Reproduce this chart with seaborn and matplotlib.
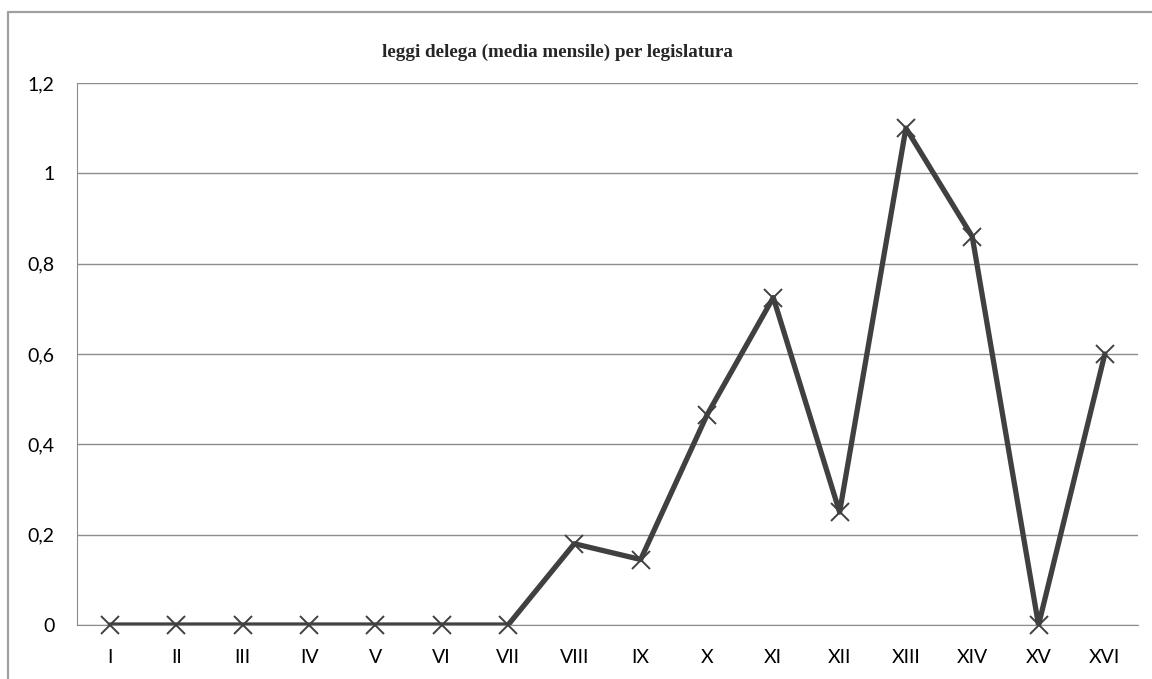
import pandas as pd
import matplotlib.pyplot as plt
import seaborn as sns
from matplotlib.lines import Line2D
from matplotlib.ticker import FuncFormatter

legislature = ["I", "II", "III", "IV", "V", "VI", "VII", "VIII",
               "IX", "X", "XI", "XII", "XIII", "XIV", "XV", "XVI"]
media_mensile = [0, 0, 0, 0, 0, 0, 0, 0.18,
                 0.145, 0.465, 0.725, 0.25, 1.1, 0.86, 0, 0.6]

df = pd.DataFrame({"legislatura": legislature, "media": media_mensile})

sns.set_style("white")
plt.rcParams["font.family"] = ["Lato", "DejaVu Sans"]

fig = plt.figure(figsize=(11.52, 6.79), dpi=100)
ax = fig.add_axes([77 / 1152, 0.0795, 1061 / 1152, 0.7983])

sns.lineplot(data=df, x="legislatura", y="media", ax=ax, sort=False,
             color="#404040", linewidth=3.8)
ax.plot(range(len(legislature)), media_mensile, linestyle="none",
        marker="x", markersize=13, markeredgewidth=1.4, color="#404040",
        clip_on=False, zorder=4)

ax.set_xlim(-0.5, len(legislature) - 0.5)
ax.set_ylim(0, 1.2)
ax.set_yticks([0, 0.2, 0.4, 0.6, 0.8, 1.0, 1.2])
ax.yaxis.set_major_formatter(FuncFormatter(
    lambda v, p: "0" if v == 0 else ("1" if abs(v - 1) < 1e-9 else f"{v:.1f}".replace(".", ","))))
ax.grid(axis="y", color="#8c8c8c", linewidth=1)
ax.set_axisbelow(True)
for s in ["top", "right"]:
    ax.spines[s].set_visible(False)
ax.spines["left"].set_color("#8c8c8c")
ax.spines["bottom"].set_color("#8c8c8c")
ax.tick_params(axis="both", labelsize=14, colors="#000000", length=0)
ax.tick_params(axis="y", pad=16)
ax.tick_params(axis="x", pad=17)
ax.set_xlabel("")
ax.set_ylabel("")

fig.text(557 / 1152, 1 - 52 / 679, "leggi delega (media mensile) per legislatura",
         ha="center", va="center", fontsize=13.8, fontweight="bold",
         family="Liberation Serif")

# outer chart frame
fig.add_artist(Line2D([8 / 1152, 1], [1 - 12 / 679, 1 - 12 / 679],
                      transform=fig.transFigure, color="#a0a0a0", linewidth=1.6))
fig.add_artist(Line2D([8 / 1152, 8 / 1152], [0, 1 - 12 / 679],
                      transform=fig.transFigure, color="#a0a0a0", linewidth=1.6))

fig.savefig("out.png", dpi=100)
